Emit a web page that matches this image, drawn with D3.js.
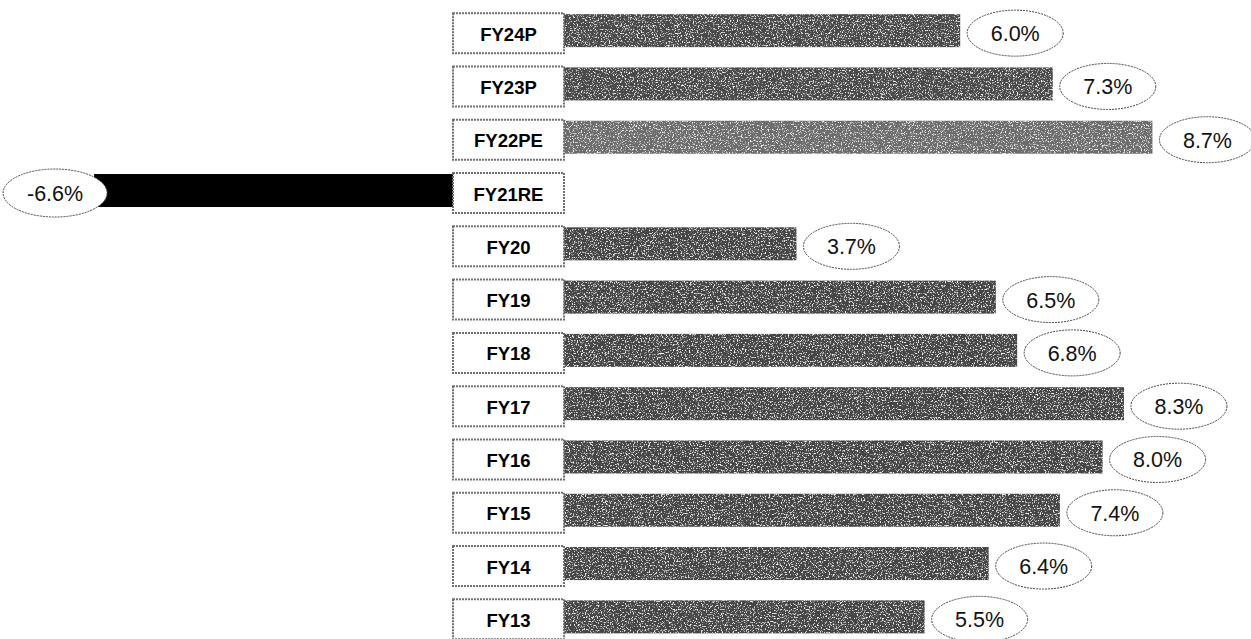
<!DOCTYPE html>
<html>
<head>
<meta charset="utf-8">
<script src="https://cdn.jsdelivr.net/npm/d3@7"></script>
<style>
  html, body { margin: 0; padding: 0; background: #fff; }
  svg { display: block; font-family: "Liberation Sans", Arial, sans-serif; }
</style>
</head>
<body>
<svg id="chart" width="1251" height="639"></svg>
<script>
// Real GDP growth by fiscal year (%), newest at the top
const years  = ["FY24P", "FY23P", "FY22PE", "FY21RE", "FY20", "FY19", "FY18", "FY17", "FY16", "FY15", "FY14", "FY13"];
const growth = [6.0, 7.3, 8.7, -6.6, 3.7, 6.5, 6.8, 8.3, 8.0, 7.4, 6.4, 5.5];
const labels = ["6.0%", "7.3%", "8.7%", "-6.6%", "3.7%", "6.5%", "6.8%", "8.3%", "8.0%", "7.4%", "6.4%", "5.5%"];
// shade group per row: projection, current estimate, revised, actual
const kind   = ["proj", "proj", "est", "neg", "act", "act", "act", "act", "act", "act", "act", "act"];

const rows = years.map((y, i) => ({ year: y, value: growth[i], label: labels[i], kind: kind[i] }));

const svg = d3.select("#chart");

// speckled print texture for the grey bars
const defs = svg.append("defs");
const grain = defs.append("filter").attr("id", "grain")
  .attr("x", 0).attr("y", 0).attr("width", 1).attr("height", 1);
grain.append("feTurbulence")
  .attr("type", "fractalNoise").attr("baseFrequency", 0.75)
  .attr("numOctaves", 2).attr("seed", 7).attr("result", "noise");
grain.append("feColorMatrix")
  .attr("in", "noise").attr("type", "matrix")
  .attr("values", "0 0 0 0 1  0 0 0 0 1  0 0 0 0 1  5 0 0 0 -2.75")
  .attr("result", "light");
grain.append("feComposite")
  .attr("in", "light").attr("in2", "SourceGraphic")
  .attr("operator", "in").attr("result", "specks");
const merge = grain.append("feMerge");
merge.append("feMergeNode").attr("in", "SourceGraphic");
merge.append("feMergeNode").attr("in", "specks");

const boxLeft = 453, boxW = 111, boxH = 40;
const boxRight = boxLeft + boxW;

const fills = { proj: "#4a4a4a", est: "#6c6c6c", act: "#444444", neg: "#000000" };

// positive growth runs right from a zero hidden under the year boxes
const x = d3.scaleLinear().domain([0, 10]).range([533, 1245]);
// contraction runs left from the year boxes
const xNeg = d3.scaleLinear().domain([-10, 0]).range([boxRight - 712, boxRight]);

const y = d3.scaleBand().domain(years).range([6.5, 646]).padding(0);
const cy = d => y(d.year) + y.bandwidth() / 2;

// bars
svg.append("g").selectAll("rect").data(rows).join("rect")
  .attr("x", d => d.value >= 0 ? x(0) : xNeg(d.value))
  .attr("width", d => d.value >= 0 ? x(d.value) - x(0) : xNeg(0) - xNeg(d.value))
  .attr("y", d => cy(d) - 19)
  .attr("height", 33)
  .attr("fill", d => fills[d.kind])
  .attr("filter", d => d.kind === "neg" ? null : "url(#grain)");

// year boxes
const boxes = svg.append("g").selectAll("g").data(rows).join("g")
  .attr("transform", d => `translate(${boxLeft},${cy(d) - boxH / 2})`);
boxes.append("rect")
  .attr("width", boxW).attr("height", boxH)
  .attr("fill", "#fff")
  .attr("stroke", "#707070")
  .attr("stroke-width", 2)
  .attr("stroke-dasharray", "2 1");
boxes.append("text")
  .attr("x", boxW / 2).attr("y", boxH / 2 + 1)
  .attr("text-anchor", "middle")
  .attr("dominant-baseline", "central")
  .attr("font-weight", "bold")
  .attr("font-size", 18.5)
  .attr("fill", "#000")
  .text(d => d.year);

// value ellipses
const rx = 48, ry = 23;
const ellCx = d => d.value >= 0 ? x(d.value) + 7 + rx : xNeg(d.value) - rx + 9;
const tags = svg.append("g").selectAll("g").data(rows).join("g")
  .attr("transform", d => `translate(${ellCx(d)},${cy(d)})`);
tags.append("ellipse")
  .attr("rx", d => d.value >= 0 ? rx : 52)
  .attr("ry", d => d.value >= 0 ? ry : 24)
  .attr("fill", "#fff")
  .attr("stroke", "#444")
  .attr("stroke-width", 1)
  .attr("stroke-dasharray", "2 1");
tags.append("text")
  .attr("text-anchor", "middle")
  .attr("dominant-baseline", "central")
  .attr("y", 1)
  .attr("font-size", 21.5)
  .attr("fill", "#111")
  .text(d => d.label);
</script>
</body>
</html>
